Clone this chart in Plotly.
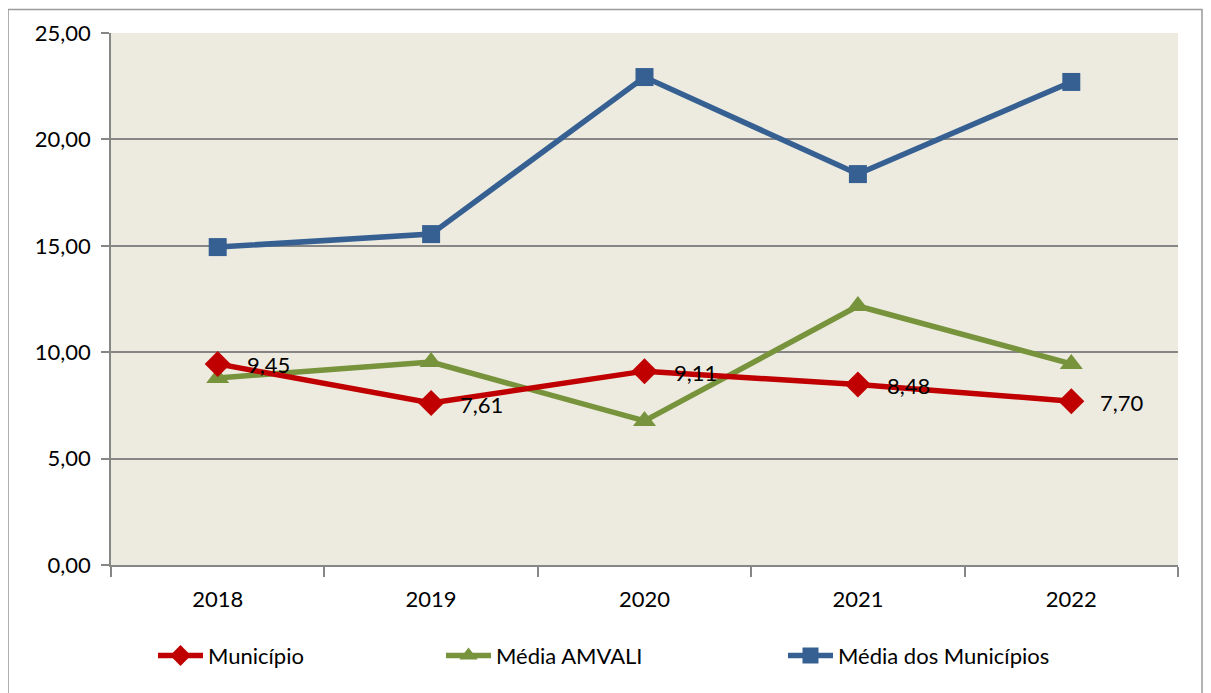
import plotly.graph_objects as go

years = ["2018", "2019", "2020", "2021", "2022"]
municipio = [9.45, 7.61, 9.11, 8.48, 7.70]
media_amvali = [8.79, 9.54, 6.77, 12.17, 9.45]
media_municipios = [14.94, 15.55, 22.93, 18.37, 22.70]

xpos = list(range(len(years)))
FONT = "Lato"
FS = 22

fig = go.Figure()
fig.add_trace(go.Scatter(
    x=xpos, y=media_municipios, name="Média dos Municípios", mode="lines+markers",
    line=dict(color="#376092", width=5.5),
    marker=dict(symbol="square", size=18, color="#376092"),
    legend="legend3",
))
fig.add_trace(go.Scatter(
    x=xpos, y=media_amvali, name="Média AMVALI", mode="lines+markers",
    line=dict(color="#77933C", width=5.5),
    marker=dict(symbol="triangle-up", size=20, color="#77933C"),
    legend="legend2",
))
fig.add_trace(go.Scatter(
    x=xpos, y=municipio, name="Município", mode="lines+markers",
    line=dict(color="#C00000", width=5.5),
    marker=dict(symbol="diamond", size=20, color="#C00000"),
    legend="legend",
))

annotations = [
    dict(x=x, y=v, xref="x", yref="y", text=f"{v:.2f}".replace(".", ","),
         showarrow=False, xanchor="left", yanchor="middle", xshift=27, yshift=-1,
         font=dict(size=FS, family=FONT, color="#000000"))
    for x, v in zip(xpos, municipio)
]

def leg(xpx):
    return dict(orientation="h", x=(xpx - 103) / 1067, xanchor="left", y=-0.131, yanchor="top",
                itemwidth=45,
                font=dict(size=FS, family=FONT, color="#000000"), bgcolor="rgba(0,0,0,0)")

fig.update_layout(
    width=1211, height=693,
    margin=dict(l=103, r=41, t=25, b=136),
    paper_bgcolor="#FFFFFF", plot_bgcolor="#EDEBE0",
    separators=",.",
    font=dict(family=FONT, size=FS, color="#000000"),
    showlegend=True,
    legend=leg(145),
    legend2=leg(433),
    legend3=leg(775),
    annotations=annotations,
    xaxis=dict(range=[-0.5, 4.5], tickvals=xpos, ticktext=years, ticks="",
               showgrid=False, zeroline=False, showline=True, linecolor="#868686", linewidth=1.5,
               tickfont=dict(size=FS), ticklabelstandoff=14,
               minor=dict(tickvals=[-0.5, 0.5, 1.5, 2.5, 3.5, 4.5], ticks="outside",
                          ticklen=10, tickcolor="#868686", tickwidth=1.5, showgrid=False)),
    yaxis=dict(range=[0, 25], dtick=5, tickformat=".2f", ticks="outside", ticklen=8,
               tickcolor="#868686", tickwidth=1.5, showgrid=True, gridcolor="#868686", gridwidth=1.5,
               zeroline=False, showline=True, linecolor="#868686", linewidth=1.5,
               tickfont=dict(size=FS), ticklabelstandoff=6),
    shapes=[dict(type="rect", xref="paper", yref="paper",
                 x0=-0.0965, x1=1.0225, y0=-0.3, y1=1.044,
                 line=dict(color="#9A9A9A", width=1.5), fillcolor="rgba(0,0,0,0)", layer="below")],
)

fig.write_html("out.html")
